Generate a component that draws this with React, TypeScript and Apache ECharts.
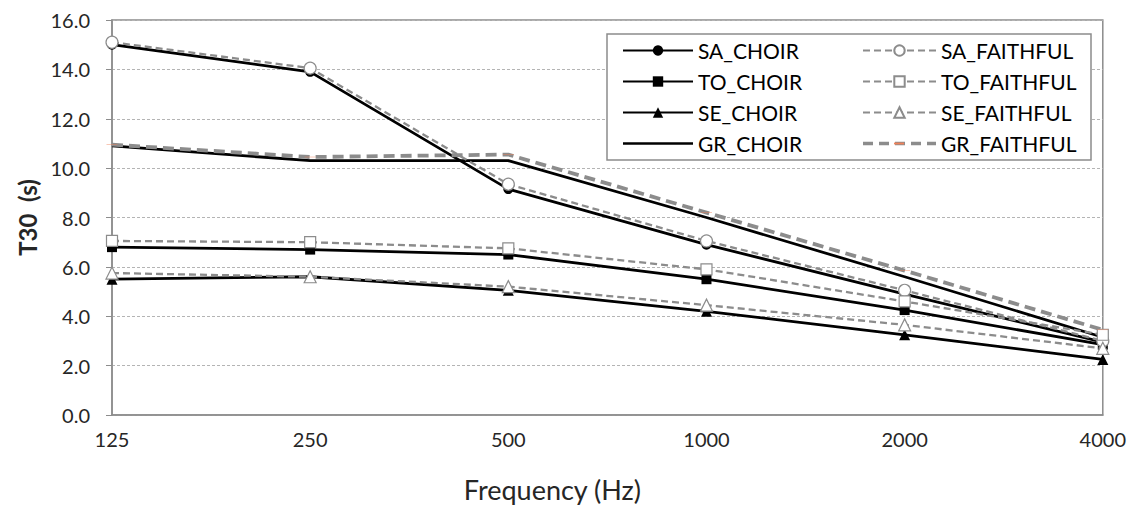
import React, { useEffect, useRef } from "react";
import * as echarts from "echarts";

const categories = ["125", "250", "500", "1000", "2000", "4000"];
const SA_CHOIR = [15.0, 13.9, 9.15, 6.9, 4.9, 2.95];
const TO_CHOIR = [6.8, 6.7, 6.5, 5.5, 4.25, 2.85];
const SE_CHOIR = [5.5, 5.6, 5.05, 4.2, 3.25, 2.25];
const GR_CHOIR = [10.9, 10.3, 10.3, 8.0, 5.6, 3.15];
const SA_FAITHFUL = [15.1, 14.05, 9.35, 7.05, 5.05, 3.0];
const TO_FAITHFUL = [7.05, 7.0, 6.75, 5.9, 4.6, 3.25];
const SE_FAITHFUL = [5.75, 5.6, 5.2, 4.45, 3.65, 2.7];
const GR_FAITHFUL = [10.95, 10.45, 10.55, 8.2, 5.85, 3.45];
const yTicks = { min: 0, max: 16, interval: 2 };

const FONT = "Lato, 'Open Sans', sans-serif";
const GRAY = "#8c8c8c";
const ORANGE = "#f0825a";
const TEXT = "#262626";
const DASH_MARK = "path://M0,0L10,0L10,2L0,2Z";
const LINE_ICON = "path://M0,0L70,0L70,2.6L0,2.6Z";
const DASHED_ICON =
  "path://M0,0L10,0L10,3.6L0,3.6Z M16,0L26,0L26,3.6L16,3.6Z M32,0L42,0L42,3.6L32,3.6Z M48,0L58,0L58,3.6L48,3.6Z M64,0L73,0L73,3.6L64,3.6Z";

function choir(name: string, data: number[], symbol: string, size: number) {
  return {
    name,
    type: "line",
    data,
    symbol,
    symbolSize: size,
    showSymbol: symbol !== "none",
    lineStyle: { color: "#000", width: 2.8, type: "solid" },
    itemStyle: { color: "#000", borderColor: "#000", borderWidth: 0 },
    z: 2,
  };
}

function faithful(name: string, data: number[], symbol: string, size: number) {
  return {
    name,
    type: "line",
    data,
    symbol,
    symbolSize: size,
    lineStyle: { color: GRAY, width: 2.3, type: [7, 4] },
    itemStyle: { color: "#fff", borderColor: GRAY, borderWidth: 1.2 },
    z: 3,
  };
}

export default function App() {
  const ref = useRef<HTMLDivElement>(null);
  useEffect(() => {
    if (!ref.current) return;
    const chart = echarts.init(ref.current, null, { renderer: "svg" });
    const legendText = { fontFamily: FONT, fontSize: 21, color: "#000" };
    chart.setOption({
      animation: false,
      backgroundColor: "#fff",
      grid: { left: 112, right: 22, top: 20, bottom: 93, show: true, borderColor: GRAY, borderWidth: 1.5 },
      graphic: [
        {
          type: "rect",
          shape: { x: 607, y: 34, width: 484, height: 126 },
          style: { fill: "#fff", stroke: GRAY, lineWidth: 1.5 },
          z: 10,
        },
        {
          type: "rect",
          shape: { x: 894, y: 142.6, width: 10, height: 1.8 },
          style: { fill: ORANGE },
          z: 30,
          zlevel: 0,
        },
      ],
      legend: [
        {
          data: [
            "SA_CHOIR",
            "TO_CHOIR",
            "SE_CHOIR",
            { name: "GR_CHOIR", icon: LINE_ICON },
          ],
          orient: "vertical",
          left: 622,
          top: 40,
          padding: 0,
          itemWidth: 70,
          itemHeight: 13,
          itemGap: 10,
          textStyle: legendText,
          z: 20,
        },
        {
          data: [
            "SA_FAITHFUL",
            "TO_FAITHFUL",
            "SE_FAITHFUL",
            { name: "GR_FAITHFUL", icon: DASHED_ICON, itemStyle: { color: GRAY } },
          ],
          orient: "vertical",
          left: 862,
          top: 40,
          padding: 0,
          itemWidth: 73,
          itemHeight: 13,
          itemGap: 10,
          textStyle: legendText,
          z: 20,
        },
      ],
      xAxis: {
        type: "category",
        data: categories,
        boundaryGap: false,
        axisLine: { show: true, lineStyle: { color: GRAY, width: 1.5 } },
        axisTick: { show: false },
        axisLabel: { fontFamily: FONT, fontSize: 20, color: TEXT, margin: 14 },
        name: "Frequency (Hz)",
        nameLocation: "middle",
        nameGap: 61,
        nameTextStyle: { fontFamily: FONT, fontSize: 27, color: TEXT, padding: [0, 110, 0, 0] },
      },
      yAxis: {
        type: "value",
        min: yTicks.min,
        max: yTicks.max,
        interval: yTicks.interval,
        axisLine: { show: true, lineStyle: { color: GRAY, width: 1.5 } },
        axisTick: { show: true, length: 6, lineStyle: { color: GRAY } },
        axisLabel: {
          fontFamily: FONT,
          fontSize: 20,
          color: TEXT,
          margin: 22,
          formatter: (v: number) => v.toFixed(1),
        },
        splitLine: { show: true, lineStyle: { color: "#b4b4b4", width: 1, type: [3, 2] } },
        name: "T30  (s)",
        nameLocation: "middle",
        nameGap: 70,
        nameTextStyle: { fontFamily: FONT, fontSize: 24, fontWeight: "bold", color: TEXT },
      },
      series: [
        choir("SA_CHOIR", SA_CHOIR, "circle", 10),
        choir("TO_CHOIR", TO_CHOIR, "rect", 10),
        choir("SE_CHOIR", SE_CHOIR, "triangle", 11),
        choir("GR_CHOIR", GR_CHOIR, "none", 0),
        faithful("SA_FAITHFUL", SA_FAITHFUL, "circle", 12),
        faithful("TO_FAITHFUL", TO_FAITHFUL, "rect", 11),
        faithful("SE_FAITHFUL", SE_FAITHFUL, "triangle", 12),
        {
          name: "GR_FAITHFUL",
          type: "line",
          data: GR_FAITHFUL,
          symbol: DASH_MARK,
          symbolSize: [11, 2.2],
          symbolKeepAspect: true,
          lineStyle: { color: GRAY, width: 3.8, type: [11, 6] },
          itemStyle: { color: ORANGE, borderWidth: 0 },
          z: 3,
        },
      ],
    });
    return () => chart.dispose();
  }, []);
  return (
    <div
      ref={ref}
      style={{ position: "fixed", left: 0, top: 0, width: 1129, height: 508 }}
    />
  );
}
